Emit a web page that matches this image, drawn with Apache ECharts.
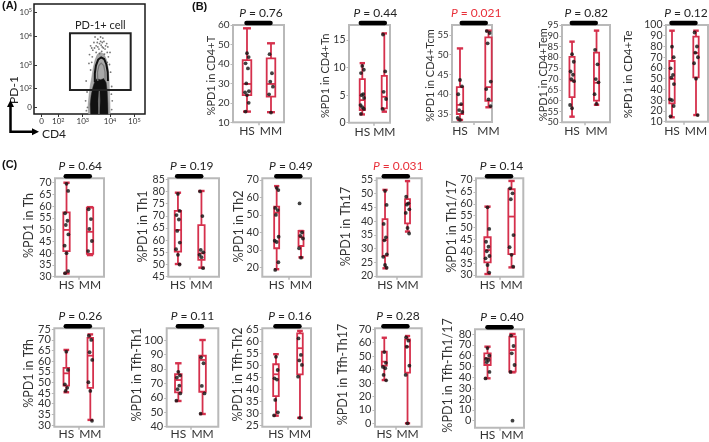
<!DOCTYPE html>
<html><head><meta charset="utf-8">
<script src="https://cdn.jsdelivr.net/npm/echarts@6/dist/echarts.min.js"></script>
<style>html,body{margin:0;padding:0;background:#fff}#c{width:709px;height:442px}</style>
</head><body><div id="c"></div>
<script>
// ---------- DATA ----------
const groups = ['HS', 'MM'];
const panelNames = ['%PD1 in CD4+T','%PD1 in CD4+Tn','%PD1 in CD4+Tcm','%PD1 in CD4+Tem','%PD1 in CD4+Te',
  '%PD1 in Th','%PD1 in Th1','%PD1 in Th2','%PD1 in Th17','%PD1 in Th1/17',
  '%PD1 in Tfh','%PD1 in Tfh-Th1','%PD1 in Tfh-Th2','%PD1 in Tfh-Th17','%PD1 in Tfh-Th1/17'];
const pValues = ['0.76','0.44','0.021','0.82','0.12','0.64','0.19','0.49','0.031','0.14','0.26','0.11','0.16','0.28','0.40'];
const yTickValues = [
  [10,20,30,40,50,60],[0,5,10,15],[35,40,45,50,55],[50,55,60,65,70,75,80,85,90,95],[10,20,30,40,50,60,70,80,90,100],
  [30,35,40,45,50,55,60,65,70],[45,50,55,60,65,70,75,80,85],[20,30,40,50,60,70],[20,25,30,35,40,45,50,55],[30,35,40,45,50,55,60,65,70],
  [30,35,40,45,50,55,60,65,70,75],[40,50,60,70,80,90,100],[25,30,35,40,45,50,55,60,65],[0,10,20,30,40,50,60,70],[0,10,20,30,40,50,60,70,80]
];
// [min, Q1, median, Q3, max]
const boxHS = [
  [15.5,24,29.7,42,58.3],[1.5,2.3,4.1,7.9,10.8],[33.5,35,37.3,41.8,51.6],[52.6,61.6,69.2,80.3,87.3],[14.1,27.1,49.8,66.5,94.7],
  [31.4,40.9,49.9,57.4,70],[50.2,55.3,64.2,72,79.5],[18.9,30.9,51.3,54.7,66.5],[22.8,27.3,33.1,40.7,51.4],[30.4,35.3,40.5,45.9,58.8],
  [45.4,48.5,54.3,56.9,65.3],[57.8,63.8,72.3,76.3,83.9],[28.9,37.1,46.2,50.4,54.6],[32.2,42.9,45.9,53.3,63.7],[39.1,51.4,57.6,62.2,68.3]
];
const boxMM = [
  [15.2,23.2,29.7,42.9,50.6],[2,2.6,4.7,8.5,16.2],[36.7,38.3,41.8,54.4,56.1],[58.1,60,68.3,82.2,92.4],[16.2,51.3,74,89.1,94.7],
  [39.2,39.7,49.1,59.4,59.6],[48.7,51.9,54.6,66.2,80.2],[25.7,32.2,37.2,40.8,40.8],[36.2,39.2,46.5,48,54.6],[33.2,38.8,54.6,66.1,69.6],
  [32.4,47.5,62.6,71,72.6],[48.8,64.2,86.2,89.1,100],[28,46.2,57.1,63.3,64.3],[0,37.7,57,62.5,65],[44.6,45.2,65.2,77.5,80]
];
const dotsHS = [
  [45.5,43.5,40.3,37.7,30,26,25.4,24,20,15.5],[10.3,9.6,9,5.2,5,4.5,3.2,2.8,2.5,1.6],[43.6,42,40,37.5,36,35.5,34,33.5],
  [81.5,78,73.5,72,70,69,58,56.5],[79.8,70,59.7,53.5,51,45,30.8,30,24.6,15],
  [69.5,66.5,57,53.8,52,48,43.2,40,32.4,31.5],[79,72,70.3,68.5,63.8,59,56.3,54,50],[65.5,64.2,54,52.8,50,37.5,35.2,34.5,22.9,18.5],
  [51,45.9,39,34.1,33,27.9,27,24,23],[58.5,49.4,44,41.9,40,38,37,34.2,31],
  [64.5,55.9,49.1,47.5,46],[78,75.5,74,68.4,66,63,58],[53.5,48,44.5,44,35.5,30.3,29],[53,45,42,41,36,32],[67,60,57,56,54,45,39]
];
const dotsMM = [
  [45,35.2,30.9,28.3,24.4,15],[16,9.3,5.6,4.3,2.5],[56,55.5,52.9,43.2,41.3,38.7,37],[83.5,76.8,70,68.5,63,58.5],[93,80,74.2,70,64.4,50,16.2],
  [58.7,54.5,50.3,45.2,40.9],[80,69.9,56,55,54,53,48.5],[56.6,40,38,36.5,30.9,25.5],[48.9,46.5,46,44.3,43,37.5,35.5],[66.5,64.4,61.9,46.8,41.7,38.5,33.5],
  [72,70,64.2,60.6,50.1,46,32],[88,83.9,68.2,63,49],[61.2,54.3,52,50.1,45.2,28],[64,61.5,57,42.9,36,0],[78.5,68.9,62.2,51.4,45,0]
];
// flow cytometry panel (display channel units 0-1000)
const flowXTicks = [69,219,439,685,904];
const flowYTicks = [61,234,445,703,927];
const flowTickLabels = ['0','10{s|2}','10{s|3}','10{s|4}','10{s|5}'];
const flowGate = [[324,218],[871,734]];
const flowHalo = [[490,0],[488,80],[496,170],[506,250],[520,330],[534,420],[550,490],[570,540],[600,560],[630,545],[652,495],[668,420],[676,320],[680,200],[684,90],[686,0]];
const flowCore = [[510,0],[506,90],[515,170],[530,240],[546,290],[566,320],[600,312],[630,322],[650,285],[660,200],[665,100],[667,0]];
const flowGap = [[578,0],[576,120],[584,220],[594,220],[597,120],[592,0]];
const flowRing = [[548,290],[548,370],[558,440],[578,495],[605,515],[632,500],[652,450],[664,380],[666,300]];
const flowRingInner = [[575,300],[572,380],[585,440],[605,462],[628,440],[640,380],[640,310]];
const flowDots = [[520,600],[540,650],[560,620],[575,680],[590,640],[600,700],[615,610],[630,660],[645,620],[560,560],[585,590],[610,570],
  [640,590],[660,560],[500,540],[525,520],[670,520],[680,450],[690,380],[495,460],[510,400],[600,660],[620,690],[550,700],[575,610],
  [655,640],[530,580],[605,625],[590,550],[635,545],[665,610],[685,560],[510,620],[545,600],[625,600],[470,300],[700,250],[705,120],[465,120],
  [478,200],[482,60],[697,180],[700,40],[472,30],[520,470],[660,470],[615,650],[570,650]];

// ---------- LAYOUT ----------
// [left, top, right, bottom, yMin, yMax, xMin, xMax, nameOffset, tickFont, nameFont, boxHalf, nameDy]
const L = [
  [233,25,284,122.3,10,60,-0.583,1.542,21.3,10,11,4.3,2],
  [349,25,390,122.7,0,17.72,-0.605,1.259,24,10.5,11,2.6,2],
  [452,25,492,122,32.97,57.53,-0.28,1.123,22,9.5,11,3.2,2],
  [562,25,610,122.3,50,95,-0.41,1.55,19,9.5,11,2.6,1],
  [666,25,708,121.7,10,100,-0.25,1.5,37.5,10.5,11.5,2.7,1],
  [55,178.3,104,276.7,30,71.87,-0.49,1.595,25.7,10.5,12.5,3.2,-2],
  [168.3,178.3,219,276.7,45,85.41,-0.41,1.747,25.6,10.5,12.5,3.2,-1],
  [262.3,178.3,311,276.7,14.62,70.97,-0.59,1.41,23,10.5,12.5,2.5,-1],
  [376.7,178.3,421.7,276.7,19.74,55.62,-0.37,1.63,31,10.5,12.5,2.5,-1],
  [476,178.3,523.3,276.7,29.28,70.72,-0.48,1.49,24.3,10.5,12.5,3.2,-1],
  [54.3,328.3,104,426.7,29.2,75.47,-0.5,1.57,25,11,12.5,2.8,-4],
  [166.7,328.3,218.3,426.7,40,108.1,-0.48,1.65,30,11,12.5,3.3,-3],
  [262.3,328.3,311,426.7,24.29,65.42,-0.57,1.46,24,11,12.5,2.8,-3],
  [375,328.3,421.7,426.7,-2.53,70.74,-0.4,1.61,31.7,11,12.5,2.5,-3],
  [475,329.3,524,427.7,-6.46,84.32,-0.5,1.46,27,11,12.5,3.2,-3]
];
const RED = '#d5304c', FRAME = '#b9b9b9', TXT = '#333', PRED = '#e8303a';
const FONT = 'Lato';

const grids = [], xAxes = [], yAxes = [], series = [];

// ---------- Panel A ----------
grids.push({left:34, top:4, width:111, height:110, show:true, borderColor:'#1a1a1a', borderWidth:1.5, outerBoundsMode:'none'});
const supRich = {s:{fontSize:5.5, verticalAlign:'top', color:TXT, fontFamily:FONT, padding:[0,0,3,0]}};
xAxes.push({gridIndex:0, type:'value', min:0, max:1000, axisLine:{show:false, onZero:false}, splitLine:{show:false},
  axisTick:{customValues:flowXTicks, length:3, lineStyle:{color:'#333'}},
  axisLabel:{customValues:flowXTicks, margin:3, fontSize:8, color:TXT, fontFamily:FONT,
    formatter:v=>flowTickLabels[flowXTicks.indexOf(v)], rich:supRich}});
yAxes.push({gridIndex:0, type:'value', min:0, max:1000, axisLine:{show:false, onZero:false}, splitLine:{show:false},
  axisTick:{customValues:flowYTicks, length:3, inside:true, lineStyle:{color:'#333'}},
  axisLabel:{customValues:flowYTicks, margin:2, fontSize:8, color:TXT, fontFamily:FONT,
    formatter:v=>flowTickLabels[flowYTicks.indexOf(v)], rich:supRich}});
function polySeries(pts, style, isLine){
  return {type:'custom', xAxisIndex:0, yAxisIndex:0, data:[0], silent:true,
    renderItem:(params, api)=>({type: isLine?'polyline':'polygon', shape:{points: pts.map(p=>api.coord(p))}, style})};
}
series.push(polySeries(flowHalo, {fill:'#a8a8a8', stroke:'#8a8a8a', lineWidth:0.5}));
series.push({type:'scatter', xAxisIndex:0, yAxisIndex:0, data:flowDots, symbolSize:1.8, itemStyle:{color:'#555'}, silent:true});
series.push(polySeries(flowCore, {fill:'#111', stroke:'#222', lineWidth:0.5}));
series.push(polySeries(flowGap, {fill:'#6a6a6a'}));
series.push(polySeries(flowRingInner, {fill:'none', stroke:'#777', lineWidth:1.2}, true));
series.push(polySeries(flowRing, {fill:'none', stroke:'#111', lineWidth:2}, true));
series.push({type:'custom', xAxisIndex:0, yAxisIndex:0, data:[0], silent:true,
  renderItem:(params, api)=>{
    const a = api.coord(flowGate[0]), b = api.coord(flowGate[1]);
    return {type:'group', children:[
      {type:'rect', shape:{x:a[0], y:b[1], width:b[0]-a[0], height:a[1]-b[1]}, style:{fill:'none', stroke:'#222', lineWidth:2}},
      {type:'text', x:(a[0]+b[0])/2, y:b[1]-8, style:{text:'PD-1+ cell', fontSize:11, fontFamily:FONT, fill:'#222', align:'center', verticalAlign:'middle'}}
    ]};
  }});

// ---------- Box plot panels ----------
const jit = [0, 0.07, -0.06, 0.04, -0.03, 0.08, -0.08];
for (let i = 0; i < 15; i++) {
  const g = i + 1, l = L[i];
  const row = i < 5 ? 0 : (i < 10 ? 1 : 2);
  grids.push({left:l[0], top:l[1], width:l[2]-l[0], height:l[3]-l[1], show:true, borderColor:FRAME, borderWidth:2, outerBoundsMode:'none'});
  xAxes.push({gridIndex:g, type:'value', min:l[6], max:l[7], axisLine:{show:false, onZero:false}, splitLine:{show:false},
    axisTick:{customValues:[0.5], length:3, lineStyle:{color:FRAME, width:1.5}},
    axisLabel:{customValues:[0,1], formatter:v=>groups[Math.round(v)], fontSize:12, color:TXT, fontFamily:FONT, margin:[3,2.5,1][row]}});
  yAxes.push({gridIndex:g, type:'value', position:'left', min:l[4], max:l[5],
    axisLine:{show:false, onZero:false}, splitLine:{show:false},
    axisTick:{show:true, customValues:yTickValues[i], length:2.5, lineStyle:{color:FRAME}},
    axisLabel:{show:false}});
  // y tick labels, placed through the y scale
  series.push({type:'custom', xAxisIndex:g, yAxisIndex:g, silent:true, clip:false,
    data: yTickValues[i].map(v=>[l[6], v]),
    renderItem:(params, api)=>{
      const p = api.coord([api.value(0), api.value(1)]);
      return {type:'text', x:p[0]-3.5, y:p[1], style:{text:String(api.value(1)), fontSize:l[9], fontFamily:FONT, fill:TXT, align:'right', verticalAlign:'middle'}};
    }});
  // y axis title
  series.push({type:'custom', xAxisIndex:g, yAxisIndex:g, silent:true, clip:false,
    data: [[l[6], (l[4]+l[5])/2]],
    renderItem:(params, api)=>{
      const p = api.coord([api.value(0), api.value(1)]);
      return {type:'text', x:p[0]-l[8], y:p[1]+l[12], rotation:Math.PI/2,
        style:{text:panelNames[i], fontSize:l[10], fontFamily:FONT, fill:TXT, align:'center', verticalAlign:'middle'}};
    }});
  const hw = l[11], cw = 0.75 * (hw + 1);
  series.push({type:'custom', xAxisIndex:g, yAxisIndex:g, silent:true,
    data:[[0].concat(boxHS[i]), [1].concat(boxMM[i])],
    renderItem:(params, api)=>{
      const x = api.value(0);
      const p = [1,2,3,4,5].map(k=>api.coord([x, api.value(k)]));
      const cx = p[0][0];
      const st = {stroke:RED, lineWidth:1.8, fill:'none'};
      const cap = {stroke:RED, lineWidth:2.4, fill:'none'};
      return {type:'group', children:[
        {type:'line', shape:{x1:cx, y1:p[3][1], x2:cx, y2:p[4][1]}, style:st},
        {type:'line', shape:{x1:cx, y1:p[1][1], x2:cx, y2:p[0][1]}, style:st},
        {type:'line', shape:{x1:cx-cw, y1:p[4][1], x2:cx+cw, y2:p[4][1]}, style:cap},
        {type:'line', shape:{x1:cx-cw, y1:p[0][1], x2:cx+cw, y2:p[0][1]}, style:cap},
        {type:'rect', shape:{x:cx-hw, y:p[3][1], width:2*hw, height:p[1][1]-p[3][1]}, style:st},
        {type:'line', shape:{x1:cx-hw, y1:p[2][1], x2:cx+hw, y2:p[2][1]}, style:st}
      ]};
    }});
  const pts = dotsHS[i].map((v,j)=>[0 + jit[j%7], v]).concat(dotsMM[i].map((v,j)=>[1 + jit[(j+2)%7], v]));
  series.push({type:'scatter', xAxisIndex:g, yAxisIndex:g, data:pts, symbolSize:3.8, itemStyle:{color:'#111'}, silent:true, clip:false});
  const pv = pValues[i], col = parseFloat(pv) < 0.05 ? PRED : '#222';
  series.push({type:'custom', xAxisIndex:g, yAxisIndex:g, silent:true, data:[[0.5]],
    renderItem:(params, api)=>{
      const top = params.coordSys.y;
      const a = api.coord([0, l[4]])[0], b = api.coord([1, l[4]])[0];
      const mid = (a + b) / 2 - 0.5;
      return {type:'group', children:[
        {type:'line', shape:{x1:mid-12, y1:top-2, x2:mid+12, y2:top-2}, style:{stroke:'#000', lineWidth:4.5, lineCap:'round'}},
        {type:'text', x:mid+2.5, y:top-12, style:{text:'{i|P} = '+pv, fontSize:12, fontFamily:FONT, fill:col, align:'center', verticalAlign:'middle',
          rich:{i:{fontStyle:'italic', fontSize:12, fontFamily:FONT, fill:col}}}}
      ]};
    }});
}

const option = {
  animation:false,
  textStyle:{fontFamily:FONT},
  grid:grids, xAxis:xAxes, yAxis:yAxes, series:series,
  graphic:[
    {type:'text', left:2, top:0, style:{text:'(A)', font:'bold 11px "Liberation Sans"', fill:'#111'}},
    {type:'text', left:192, top:1, style:{text:'(B)', font:'bold 11px "Liberation Sans"', fill:'#111'}},
    {type:'text', left:2, top:159, style:{text:'(C)', font:'bold 11px "Liberation Sans"', fill:'#111'}},
    {type:'text', x:14.5, y:90, rotation:Math.PI/2, style:{text:'PD-1', fontSize:12, fontFamily:FONT, fill:'#222', align:'center', verticalAlign:'middle'}},
    {type:'text', x:54, y:134.5, style:{text:'CD4', fontSize:12, fontFamily:FONT, fill:'#222', align:'center', verticalAlign:'middle'}},
    {type:'polyline', shape:{points:[[10.5,104],[10.5,131.7],[34,131.7]]}, style:{stroke:'#000', lineWidth:2.5, fill:'none'}},
    {type:'polygon', shape:{points:[[10.5,100],[7,107],[14,107]]}, style:{fill:'#000'}},
    {type:'polygon', shape:{points:[[39,131.7],[32,128.2],[32,135.2]]}, style:{fill:'#000'}}
  ]
};
const chart = echarts.init(document.getElementById('c'));
chart.setOption(option);
</script>
</body></html>
